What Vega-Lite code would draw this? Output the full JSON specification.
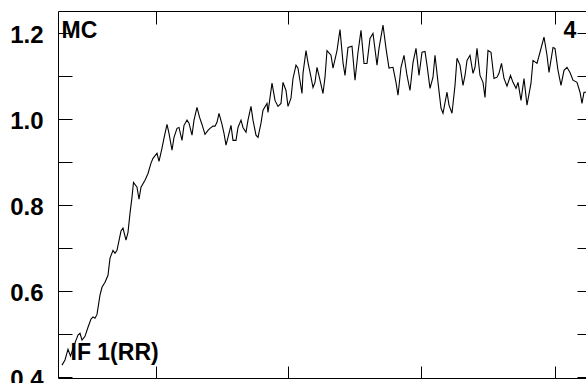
{
  "$schema": "https://vega.github.io/schema/vega-lite/v6.json",
  "width": 528,
  "height": 367,
  "autosize": "none",
  "padding": {"left": 58, "top": 11, "right": 0, "bottom": 5},
  "background": "white",
  "config": {"view": {"stroke": null}, "font": "Liberation Sans"},
  "datasets": {
    "series": [
      {"t": 4, "v": 0.428}, {"t": 7, "v": 0.440}, {"t": 10, "v": 0.465}, {"t": 12.5, "v": 0.449},
      {"t": 16, "v": 0.474}, {"t": 20, "v": 0.498}, {"t": 22, "v": 0.502}, {"t": 24, "v": 0.486},
      {"t": 27, "v": 0.495}, {"t": 30, "v": 0.516}, {"t": 33, "v": 0.535}, {"t": 35, "v": 0.540},
      {"t": 37, "v": 0.537}, {"t": 39, "v": 0.546}, {"t": 42, "v": 0.591}, {"t": 44, "v": 0.609},
      {"t": 47, "v": 0.621}, {"t": 50, "v": 0.637}, {"t": 52, "v": 0.677}, {"t": 55, "v": 0.695},
      {"t": 57, "v": 0.688}, {"t": 59, "v": 0.695}, {"t": 63, "v": 0.740}, {"t": 65, "v": 0.747},
      {"t": 68, "v": 0.719}, {"t": 70, "v": 0.737}, {"t": 72, "v": 0.781}, {"t": 74, "v": 0.819},
      {"t": 75.5, "v": 0.853}, {"t": 79, "v": 0.842}, {"t": 81, "v": 0.814}, {"t": 83, "v": 0.842},
      {"t": 87, "v": 0.858}, {"t": 90, "v": 0.874}, {"t": 93, "v": 0.898}, {"t": 95, "v": 0.909},
      {"t": 99, "v": 0.921}, {"t": 101, "v": 0.902}, {"t": 104, "v": 0.933}, {"t": 106, "v": 0.956},
      {"t": 109, "v": 0.988}, {"t": 111, "v": 0.967}, {"t": 114, "v": 0.928}, {"t": 116, "v": 0.958},
      {"t": 119, "v": 0.979}, {"t": 121, "v": 0.981}, {"t": 124, "v": 0.951}, {"t": 126, "v": 0.986},
      {"t": 129, "v": 0.998}, {"t": 131, "v": 0.991}, {"t": 134, "v": 0.963}, {"t": 136, "v": 0.998},
      {"t": 139, "v": 1.028}, {"t": 141.5, "v": 1.005}, {"t": 144, "v": 0.988}, {"t": 147, "v": 0.965},
      {"t": 150, "v": 0.974}, {"t": 152, "v": 0.979}, {"t": 155, "v": 0.984}, {"t": 157, "v": 0.984},
      {"t": 159, "v": 0.993}, {"t": 161, "v": 1.014}, {"t": 164, "v": 0.988}, {"t": 166, "v": 0.967},
      {"t": 168, "v": 0.940}, {"t": 170, "v": 0.958}, {"t": 173, "v": 0.986}, {"t": 175, "v": 0.951},
      {"t": 178, "v": 0.951}, {"t": 180, "v": 0.981}, {"t": 183, "v": 0.998}, {"t": 185, "v": 0.981},
      {"t": 188, "v": 0.970}, {"t": 190, "v": 0.998}, {"t": 193, "v": 1.030}, {"t": 195, "v": 0.998},
      {"t": 198, "v": 0.963}, {"t": 200, "v": 0.958}, {"t": 203, "v": 0.991}, {"t": 205, "v": 1.021},
      {"t": 209, "v": 1.037}, {"t": 210, "v": 1.016}, {"t": 214, "v": 1.084}, {"t": 217, "v": 1.044},
      {"t": 220, "v": 1.030}, {"t": 223, "v": 1.037}, {"t": 225, "v": 1.086}, {"t": 228, "v": 1.067},
      {"t": 230, "v": 1.030}, {"t": 233, "v": 1.049}, {"t": 235, "v": 1.095}, {"t": 238, "v": 1.126},
      {"t": 240, "v": 1.119}, {"t": 244, "v": 1.060}, {"t": 245, "v": 1.107}, {"t": 248, "v": 1.160},
      {"t": 250, "v": 1.132}, {"t": 253, "v": 1.098}, {"t": 255, "v": 1.074}, {"t": 257, "v": 1.086},
      {"t": 259, "v": 1.121}, {"t": 262, "v": 1.091}, {"t": 265, "v": 1.060}, {"t": 267, "v": 1.098},
      {"t": 269, "v": 1.160}, {"t": 273, "v": 1.149}, {"t": 275, "v": 1.119}, {"t": 279, "v": 1.160},
      {"t": 282, "v": 1.209}, {"t": 285, "v": 1.132}, {"t": 287, "v": 1.102}, {"t": 290, "v": 1.167},
      {"t": 294, "v": 1.170}, {"t": 297, "v": 1.091}, {"t": 300, "v": 1.156}, {"t": 303, "v": 1.207},
      {"t": 306, "v": 1.130}, {"t": 309, "v": 1.130}, {"t": 312, "v": 1.188}, {"t": 315, "v": 1.200},
      {"t": 319, "v": 1.126}, {"t": 321, "v": 1.165}, {"t": 325, "v": 1.219}, {"t": 328, "v": 1.165},
      {"t": 331, "v": 1.119}, {"t": 335, "v": 1.121}, {"t": 338, "v": 1.086}, {"t": 340, "v": 1.056},
      {"t": 343, "v": 1.121}, {"t": 346, "v": 1.149}, {"t": 349, "v": 1.102}, {"t": 352, "v": 1.067},
      {"t": 355, "v": 1.132}, {"t": 358, "v": 1.165}, {"t": 361, "v": 1.102}, {"t": 364, "v": 1.156},
      {"t": 367, "v": 1.158}, {"t": 369, "v": 1.126}, {"t": 372, "v": 1.072}, {"t": 375, "v": 1.098},
      {"t": 377, "v": 1.149}, {"t": 380, "v": 1.086}, {"t": 383, "v": 1.026}, {"t": 385, "v": 1.014},
      {"t": 389, "v": 1.063}, {"t": 391, "v": 1.033}, {"t": 394, "v": 1.014}, {"t": 397, "v": 1.079},
      {"t": 399, "v": 1.142}, {"t": 402, "v": 1.126}, {"t": 405, "v": 1.079}, {"t": 407, "v": 1.102},
      {"t": 409, "v": 1.137}, {"t": 412, "v": 1.149}, {"t": 415, "v": 1.107}, {"t": 417, "v": 1.121},
      {"t": 419, "v": 1.165}, {"t": 422, "v": 1.102}, {"t": 425, "v": 1.086}, {"t": 427, "v": 1.051},
      {"t": 430, "v": 1.160}, {"t": 433, "v": 1.156}, {"t": 436, "v": 1.095}, {"t": 439, "v": 1.098},
      {"t": 441, "v": 1.107}, {"t": 443.5, "v": 1.130}, {"t": 446, "v": 1.095}, {"t": 449, "v": 1.077},
      {"t": 452.5, "v": 1.102}, {"t": 455, "v": 1.086}, {"t": 458, "v": 1.072}, {"t": 460, "v": 1.086},
      {"t": 463, "v": 1.044}, {"t": 466, "v": 1.095}, {"t": 469, "v": 1.033}, {"t": 473, "v": 1.084},
      {"t": 475, "v": 1.137}, {"t": 479, "v": 1.130}, {"t": 482, "v": 1.156}, {"t": 486, "v": 1.191},
      {"t": 489, "v": 1.149}, {"t": 491, "v": 1.109}, {"t": 495, "v": 1.167}, {"t": 497, "v": 1.165},
      {"t": 500, "v": 1.114}, {"t": 503, "v": 1.079}, {"t": 506, "v": 1.114}, {"t": 509, "v": 1.121},
      {"t": 512, "v": 1.109}, {"t": 515, "v": 1.091}, {"t": 519, "v": 1.086}, {"t": 522, "v": 1.063},
      {"t": 524, "v": 1.037}, {"t": 526, "v": 1.063}, {"t": 528, "v": 1.063}, {"t": 532, "v": 1.053}
    ],
    "labels": [
      {"t": 3.5, "v": 1.206, "label": "MC"},
      {"t": 505.5, "v": 1.206, "label": "4"},
      {"t": 12.5, "v": 0.457, "label": "IF 1(RR)"}
    ]
  },
  "layer": [
    {
      "data": {"name": "series"},
      "mark": {"type": "line", "color": "black", "strokeWidth": 1.1, "clip": true},
      "encoding": {
        "x": {
          "field": "t", "type": "quantitative",
          "scale": {"domain": [0, 528], "nice": false, "zero": false},
          "axis": {
            "orient": "top", "title": null, "labels": false, "grid": false,
            "values": [98, 230, 363, 497], "tickSize": -13, "tickColor": "black",
            "domainColor": "black", "tickWidth": 1, "domainWidth": 1
          }
        },
        "y": {
          "field": "v", "type": "quantitative",
          "scale": {"domain": [0.398, 1.252], "nice": false, "zero": false},
          "axis": {
            "orient": "left", "title": null, "grid": false,
            "values": [0.4, 0.5, 0.6, 0.7, 0.8, 0.9, 1.0, 1.1, 1.2],
            "tickSize": -14, "tickColor": "black", "domainColor": "black",
            "labelExpr": "(round(datum.value * 10) % 2 == 0) ? format(datum.value, '.1f') : ''",
            "labelFont": "Liberation Sans", "labelFontSize": 24, "labelFontWeight": "bold",
            "labelColor": "black", "labelPadding": 29, "labelOffset": 2,
            "labelFlush": false, "labelOverlap": false
          }
        }
      }
    },
    {
      "data": {"name": "labels"},
      "mark": {"type": "text", "align": "left", "baseline": "middle", "font": "Liberation Sans", "fontSize": 23, "fontWeight": "bold", "color": "black"},
      "encoding": {
        "x": {
          "field": "t", "type": "quantitative",
          "axis": {
            "orient": "bottom", "title": null, "labels": false, "grid": false,
            "values": [98, 230, 363, 497], "tickSize": -12, "tickColor": "black",
            "domainColor": "black"
          }
        },
        "y": {
          "field": "v", "type": "quantitative",
          "axis": {
            "orient": "right", "title": null, "labels": false, "grid": false, "offset": 5,
            "values": [0.4, 0.5, 0.6, 0.7, 0.8, 0.9, 1.0, 1.1, 1.2],
            "tickSize": -14, "tickColor": "black", "domainColor": "black"
          }
        },
        "text": {"field": "label"}
      }
    }
  ],
  "resolve": {"axis": {"x": "independent", "y": "independent"}}
}
